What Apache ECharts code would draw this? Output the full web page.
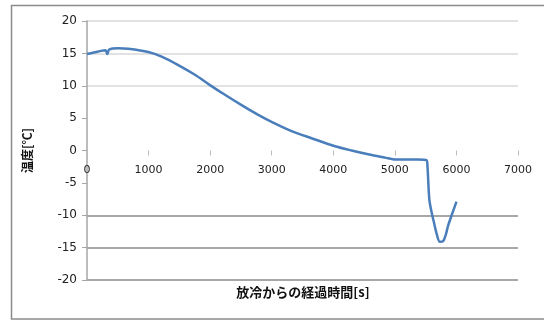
<!DOCTYPE html>
<html>
<head>
<meta charset="utf-8">
<script src="https://cdn.jsdelivr.net/npm/echarts@6/dist/echarts.min.js"></script>
<style>
  html, body { margin: 0; padding: 0; background: #fff; }
  #chart { width: 544px; height: 322px; }
</style>
</head>
<body>
<div id="chart"></div>
<script>
// Elapsed time since cooling started [s]
const timeSec = [0, 184, 300, 330, 360, 508, 670, 995, 1212, 1482, 1753, 1997, 2240, 2511, 2781, 3014, 3323, 3647, 4015, 4297, 4622, 4838, 5016, 5379, 5514, 5530, 5560, 5596, 5640, 5677, 5731, 5784, 5830, 5865, 5930, 6001];
// Temperature [°C]
const tempC = [14.9, 15.3, 15.5, 14.9, 15.6, 15.8, 15.7, 15.2, 14.5, 13.2, 11.7, 10.1, 8.6, 7.0, 5.5, 4.35, 3.0, 1.9, 0.7, 0.0, -0.7, -1.1, -1.4, -1.4, -1.5, -2.5, -7.6, -9.5, -11.3, -12.8, -14.1, -14.0, -12.9, -11.6, -9.8, -7.9];

const yTicks = [-20, -15, -10, -5, 0, 5, 10, 15, 20];
const xTicks = [0, 1000, 2000, 3000, 4000, 5000, 6000, 7000];
const yTitle = '温度[℃]';
const xTitle = '放冷からの経過時間[s]';

// one colour per horizontal grid line, from the lowest tick upward
const gridColors = yTicks.map(v => v <= -10 ? '#8a8a8a' : (v >= 10 ? '#d9d9d9' : 'rgba(0,0,0,0)'));

const gridTop = 21, gridBottom = 42, chartH = 322;
const plotH = chartH - gridTop - gridBottom;
// shift the horizontal axis up from the bottom edge to the 0 °C level
const zeroShift = -plotH * (0 - yTicks[0]) / (yTicks[yTicks.length - 1] - yTicks[0]);

const chart = echarts.init(document.getElementById('chart'), null, { renderer: 'canvas' });

chart.setOption({
  animation: false,
  backgroundColor: '#ffffff',
  grid: { left: 87, right: 26, top: gridTop, bottom: gridBottom },
  xAxis: {
    type: 'value',
    position: 'bottom',
    offset: zeroShift,
    min: xTicks[0],
    max: xTicks[xTicks.length - 1],
    interval: 1000,
    axisLine: { show: false, onZero: false },
    axisTick: { show: true, length: 5, lineStyle: { color: '#bdbdbd', width: 1 } },
    axisLabel: {
      margin: 14,
      fontFamily: 'DejaVu Sans',
      fontSize: 11,
      color: '#222',
      formatter: v => String(v)
    },
    splitLine: { show: false }
  },
  yAxis: {
    type: 'value',
    min: yTicks[0],
    max: yTicks[yTicks.length - 1],
    interval: 5,
    name: yTitle,
    nameLocation: 'middle',
    nameGap: 54,
    nameRotate: 90,
    nameTextStyle: {
      fontFamily: 'Noto Sans CJK JP',
      fontSize: 12,
      fontWeight: 'bold',
      color: '#111'
    },
    axisLine: { show: true, onZero: false, lineStyle: { color: '#a6a6a6', width: 1.5 } },
    axisTick: { show: true, length: 5, lineStyle: { color: '#a6a6a6' } },
    axisLabel: {
      margin: 10,
      fontFamily: 'DejaVu Sans',
      fontSize: 12,
      color: '#222'
    },
    splitLine: { show: true, lineStyle: { color: gridColors, width: 1.5 } }
  },
  series: [{
    type: 'line',
    data: timeSec.map((t, i) => [t, tempC[i]]),
    showSymbol: false,
    smooth: 0.3,
    lineStyle: { color: '#4a7ebb', width: 2.5 },
    itemStyle: { color: '#4a7ebb' }
  }],
  graphic: [
    {
      type: 'rect',
      shape: { x: 11.5, y: 5.5, width: 560, height: 313.5 },
      style: { fill: 'none', stroke: '#8c8c8c', lineWidth: 1.5 },
      silent: true
    },
    {
      type: 'text',
      x: 303,
      y: 292,
      style: {
        text: xTitle,
        align: 'center',
        verticalAlign: 'middle',
        fontFamily: 'Noto Sans CJK JP',
        fontSize: 13,
        fontWeight: 'bold',
        fill: '#111'
      }
    }
  ]
});
</script>
</body>
</html>
